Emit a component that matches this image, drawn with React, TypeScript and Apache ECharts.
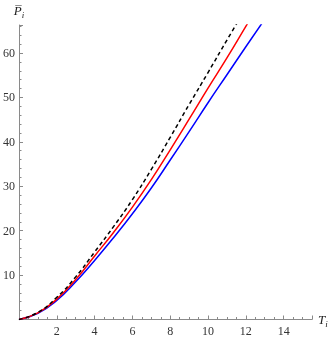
import React, { useEffect, useRef } from "react";
import * as echarts from "echarts";

const blackT = [0, 1, 2, 3, 4, 5, 6, 7, 8, 9, 10, 11, 11.6];
const blackP = [0, 1.6, 5.0, 9.6, 15.2, 20.9, 27.0, 33.8, 41.0, 48.4, 55.6, 62.9, 67.2];
const redT = [0, 1, 2, 3, 4, 5, 6, 7, 8, 9, 10, 11, 12, 12.2];
const redP = [0, 1.5, 4.6, 9.0, 14.3, 19.6, 25.3, 31.5, 38.2, 45.1, 52.1, 58.9, 66.0, 67.4];
const blueT = [0, 1, 2, 3, 4, 5, 6, 7, 8, 9, 10, 11, 12, 13];
const blueP = [0, 1.4, 4.3, 8.5, 13.3, 18.4, 23.8, 29.6, 35.9, 42.3, 48.8, 55.1, 61.4, 67.6];

const xTicks = [2, 4, 6, 8, 10, 12, 14];
const yTicks = [10, 20, 30, 40, 50, 60];

const pairs = (xs: number[], ys: number[]) => xs.map((x, i) => [x, ys[i]]);

export default function App() {
  const ref = useRef<HTMLDivElement>(null);
  useEffect(() => {
    if (!ref.current) return;
    const chart = echarts.init(ref.current, null, { renderer: "svg" });
    const font = "'Liberation Serif', 'DejaVu Serif', serif";
    const axisColor = "#8a8a8a";
    chart.setOption({
      animation: false,
      grid: { left: 16.7, right: 20, top: 25, bottom: 19.5, containLabel: false },
      xAxis: {
        type: "value",
        min: 0,
        max: 15.5,
        interval: 2,
        name: "{t|T}{s|i}",
        nameLocation: "end",
        nameGap: 6,
        nameTextStyle: {
          rich: {
            t: { fontFamily: font, fontStyle: "italic", fontSize: 13, color: "#222" },
            s: { fontFamily: font, fontStyle: "italic", fontSize: 9, color: "#222", padding: [8, 0, 0, 0] },
          },
        },
        axisLine: { lineStyle: { color: axisColor, width: 1 } },
        axisTick: { inside: true, length: 4, lineStyle: { color: axisColor } },
        minorTick: { show: true, splitNumber: 4, length: 2.5, lineStyle: { color: axisColor } },
        splitLine: { show: false },
        axisLabel: {
          fontFamily: font,
          fontSize: 12,
          color: "#333",
          margin: 5,
          formatter: (v: number) => (xTicks.includes(v) ? String(v) : ""),
        },
      },
      yAxis: {
        type: "value",
        min: 0,
        max: 66.3,
        interval: 10,
        name: "{t|P\u0305}{s|i}",
        nameLocation: "end",
        nameGap: 6,
        nameTextStyle: {
          align: "center",
          rich: {
            t: { fontFamily: font, fontStyle: "italic", fontSize: 13, color: "#222" },
            s: { fontFamily: font, fontStyle: "italic", fontSize: 9, color: "#222", padding: [8, 0, 0, 0] },
          },
        },
        axisLine: { lineStyle: { color: axisColor, width: 1 } },
        axisTick: { inside: true, length: 4, lineStyle: { color: axisColor } },
        minorTick: { show: true, splitNumber: 5, length: 2.5, lineStyle: { color: axisColor } },
        splitLine: { show: false },
        axisLabel: {
          fontFamily: font,
          fontSize: 12,
          color: "#333",
          margin: 4,
          formatter: (v: number) => (yTicks.includes(v) ? String(v) : ""),
        },
      },
      series: [
        {
          type: "line",
          data: pairs(blueT, blueP),
          smooth: 0.5,
          showSymbol: false,
          lineStyle: { color: "#0000ff", width: 1.5 },
          clip: true,
        },
        {
          type: "line",
          data: pairs(redT, redP),
          smooth: 0.5,
          showSymbol: false,
          lineStyle: { color: "#ff0000", width: 1.5 },
          clip: true,
        },
        {
          type: "line",
          data: pairs(blackT, blackP),
          smooth: 0.5,
          showSymbol: false,
          lineStyle: { color: "#000000", width: 1.5, type: [4, 3] },
          clip: true,
        },
      ],
    });
    return () => chart.dispose();
  }, []);
  return <div ref={ref} style={{ position: "fixed", left: 0, top: 0, width: 332, height: 339 }} />;
}
